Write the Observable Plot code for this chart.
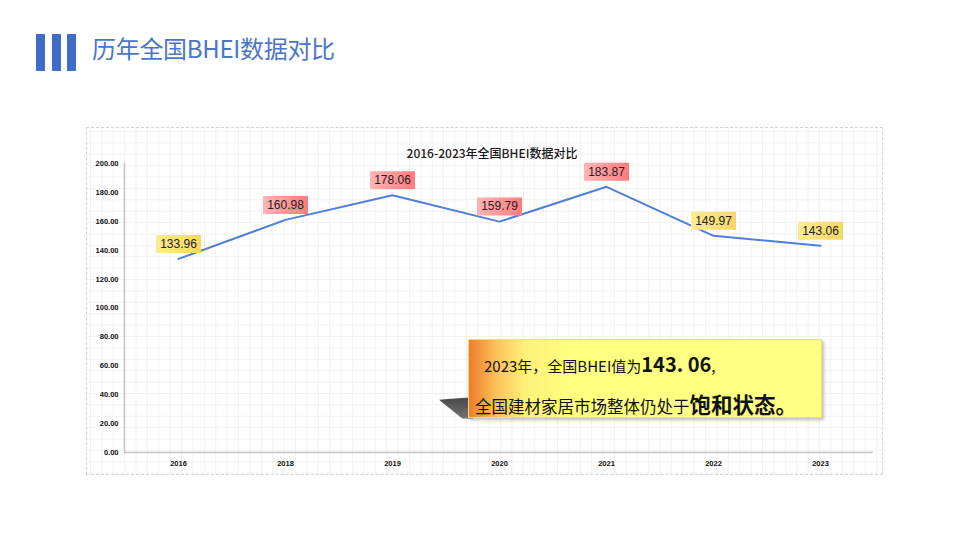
<!DOCTYPE html>
<html>
<head>
<meta charset="utf-8">
<script src="https://cdn.jsdelivr.net/npm/d3@7"></script>
<script src="https://cdn.jsdelivr.net/npm/@observablehq/plot@0.6"></script>
<style>
  html, body { margin: 0; padding: 0; background: #fff; }
  body { width: 974px; height: 553px; position: relative; overflow: hidden; font-family: "Noto Sans CJK SC", "Noto Sans", sans-serif; }
  .bars { position: absolute; left: 36px; top: 34px; }
  .bars span { position: absolute; top: 0; width: 9px; height: 37px; background: #3f6cc4; }
  .page-title { position: absolute; left: 92px; top: 30px; font-size: 24px; color: #4a76c8; font-weight: 400; letter-spacing: -0.3px; line-height: 36px; white-space: nowrap; }
  #chart { position: absolute; left: 86px; top: 127px; width: 797px; height: 348px;
    background-color: #fff;
    background-image: linear-gradient(#f1f1f1 1px, transparent 1px), linear-gradient(90deg, #f1f1f1 1px, transparent 1px);
    background-size: 11.4px 11.4px; background-position: 4px 4px; }
  #frame { position: absolute; left: 86px; top: 127px; width: 795px; height: 346px; border: 1px dashed #d4d4d4; pointer-events: none; }
  #chart svg { display: block; }
  .shadow { position: absolute; left: 439px; top: 397px; width: 34px; height: 22px;
    background: linear-gradient(180deg, #333 0%, #666 100%);
    clip-path: polygon(0% 12%, 100% 0%, 100% 100%, 70% 100%); filter: blur(1.2px); opacity: 0.9; }
  .callout { position: absolute; left: 468px; top: 339px; width: 354px; height: 79px; box-sizing: border-box;
    background: linear-gradient(90deg, #ef7d2c 0%, #fbc45a 8%, #fff17a 16%, #ffff80 30%, #ffff84 100%);
    border: 1px solid #e8e27a; box-shadow: 2px 2px 3px rgba(0,0,0,0.25); color: #111; }
  .callout .l1 { position: absolute; left: 15px; top: 9px; font-size: 15px; line-height: 30px; white-space: nowrap; }
  .callout .l2 { position: absolute; left: 6px; top: 49px; font-size: 16.5px; line-height: 30px; white-space: nowrap; }
  .callout b { font-size: 20px; font-weight: 700; }
  .callout .l2 b { font-size: 21.5px; }
</style>
</head>
<body>
<svg width="0" height="0" style="position:absolute">
  <defs>
    <linearGradient id="gRed" x1="0" x2="1" y1="0" y2="0">
      <stop offset="0%" stop-color="#ffb4b4"/>
      <stop offset="100%" stop-color="#ff7c7c"/>
    </linearGradient>
    <linearGradient id="gYellow" x1="0" x2="1" y1="0" y2="0">
      <stop offset="0%" stop-color="#fcec92"/>
      <stop offset="100%" stop-color="#f6d766"/>
    </linearGradient>
  </defs>
</svg>
<div class="bars"><span style="left:0"></span><span style="left:16px"></span><span style="left:31px"></span></div>
<div class="page-title">历年全国BHEI数据对比</div>
<div id="chart"></div>
<div id="frame"></div>
<div class="shadow"></div>
<div class="callout">
  <div class="l1">2023年，全国BHEI值为<b>143. 06</b>,</div>
  <div class="l2">全国建材家居市场整体仍处于<b>饱和状态。</b></div>
</div>
<script>
const chartTitle = "2016-2023年全国BHEI数据对比";
const years = ["2016", "2018", "2019", "2020", "2021", "2022", "2023"];
const values = [133.96, 160.98, 178.06, 159.79, 183.87, 149.97, 143.06];
const labelTone = ["yellow", "red", "red", "red", "red", "yellow", "yellow"];
const yTicks = [0, 20, 40, 60, 80, 100, 120, 140, 160, 180, 200];

const data = years.map((year, i) => ({ year, value: values[i], tone: labelTone[i] }));
const labelBox = { draw(ctx) { ctx.rect(-22.5, -9, 45, 18); } };

const plot = Plot.plot({
  width: 797,
  height: 348,
  marginLeft: 38,
  marginRight: 10,
  marginTop: 36,
  marginBottom: 23,
  style: { background: "transparent", fontFamily: "Arial, 'Liberation Sans', sans-serif", overflow: "visible" },
  x: { type: "point", domain: years, padding: 0.5, label: null },
  y: { domain: [0, 200], label: null },
  marks: [
    Plot.ruleY([0], { stroke: "#c4c4c4", strokeWidth: 1.5 }),
    Plot.frame({ anchor: "left", stroke: "#c4c4c4", strokeWidth: 1.5 }),
    Plot.axisY({ ticks: yTicks, tickSize: 0, tickPadding: 6, tickFormat: d => d.toFixed(2), fontSize: 7.5, fontWeight: "bold", fill: "#111", label: null }),
    Plot.axisX({ tickSize: 0, tickPadding: 8, fontSize: 7.5, fontWeight: "bold", fill: "#111", label: null }),
    Plot.text([chartTitle], { frameAnchor: "top", dy: -14, dx: -7, fontSize: 12, fontWeight: 500, fill: "#1a1a1a", fontFamily: "'Noto Sans CJK SC', sans-serif" }),
    Plot.line(data, { x: "year", y: "value", stroke: "#4f7fd8", strokeWidth: 2 }),
    Plot.dot(data.filter(d => d.tone === "red"), { x: "year", y: "value", symbol: labelBox, fill: "url(#gRed)", dy: -15 }),
    Plot.dot(data.filter(d => d.tone === "yellow"), { x: "year", y: "value", symbol: labelBox, fill: "url(#gYellow)", dy: -15 }),
    Plot.text(data, { x: "year", y: "value", text: d => d.value.toFixed(2), dy: -15, fontSize: 12, fill: "#222" })
  ]
});
document.getElementById("chart").appendChild(plot);
</script>
</body>
</html>
